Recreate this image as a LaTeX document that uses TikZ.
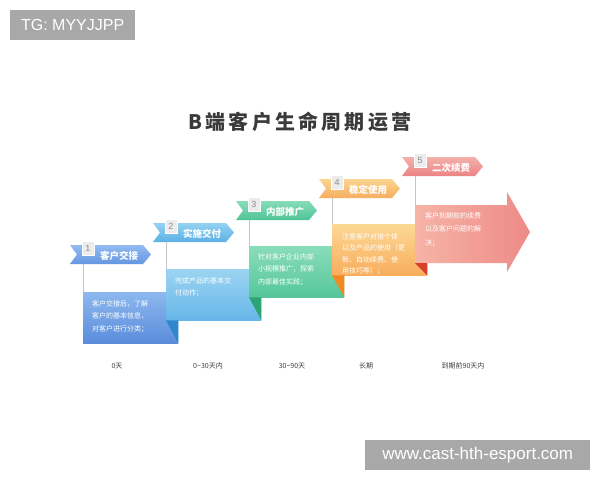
\documentclass[tikz,border=0pt]{standalone}
\usepackage{fontspec}
\setmainfont{Noto Sans CJK SC}
\newfontfamily\lat{Liberation Sans}
\usetikzlibrary{calc}
\definecolor{wmgray}{HTML}{A8A8A8}
\definecolor{ttl}{HTML}{3A3A3A}
\definecolor{vline}{HTML}{C4C4C4}
\definecolor{lbl}{HTML}{404040}
\definecolor{numfill}{HTML}{ECECEC}
\definecolor{numtxt}{HTML}{8C8C8C}
% ribbons
\definecolor{r1t}{HTML}{92BBF0}\definecolor{r1b}{HTML}{6596E0}
\definecolor{r2t}{HTML}{94D2F2}\definecolor{r2b}{HTML}{5CB0E6}
\definecolor{r3t}{HTML}{88DCBA}\definecolor{r3b}{HTML}{4FC496}
\definecolor{r4t}{HTML}{FBD592}\definecolor{r4b}{HTML}{F6AE5E}
\definecolor{r5t}{HTML}{F5B0AC}\definecolor{r5b}{HTML}{EB8484}
% boxes
\definecolor{b1t}{HTML}{8DB8EE}\definecolor{b1b}{HTML}{5A8CDC}
\definecolor{b2t}{HTML}{9CD4F2}\definecolor{b2b}{HTML}{66B6E8}
\definecolor{b3t}{HTML}{8ADDBA}\definecolor{b3b}{HTML}{55C69A}
\definecolor{b4t}{HTML}{FCD896}\definecolor{b4b}{HTML}{F8AD5C}
\definecolor{b5l}{HTML}{F6B4A6}\definecolor{b5r}{HTML}{EE8A88}
% folds
\definecolor{f2}{HTML}{2E86CC}
\definecolor{f3}{HTML}{2EA476}
\definecolor{f4}{HTML}{EE8A22}
\definecolor{f5}{HTML}{D8402E}
\tikzset{
  numbox/.style={fill=numfill, draw=white, line width=0.4pt, minimum width=12pt, minimum height=14pt, inner sep=0pt, text=numtxt, font=\lat\fontsize{9}{9}\selectfont},
  ribtext/.style={text=white, inner sep=0pt, font=\fontsize{9.5}{10}\selectfont\bfseries},
  stagebox/.style={draw=none, inner sep=0pt, minimum width=95pt, minimum height=51pt, anchor=north west},
  bodytext/.style={text=white, inner sep=0pt, anchor=north west, align=left, font=\fontsize{7}{12.5}\selectfont},
  connline/.style={draw=vline, line width=0.8pt},
  daylabel/.style={text=lbl, inner sep=0pt, font=\fontsize{7}{8}\selectfont},
  wmark/.style={fill=wmgray, text=white, inner sep=0pt, font=\lat\fontsize{16}{16}\selectfont}
}
\newcommand{\ribbon}[6]{%
  \path[top color=#4t, bottom color=#4b] (#2,#3) -- (#2+73,#3) -- (#2+81,#3+9.5) -- (#2+73,#3+19) -- (#2,#3+19) -- (#2+7,#3+9.5) -- cycle;
  \node[numbox] (#1n) at (#2+18,#3+3.5) {#5};
  \node[ribtext] (#1t) at (#2+49,#3+11) {#6};
  \coordinate (#1a) at (#2+13,#3+19);
}
\begin{document}
\begin{tikzpicture}[x=1pt,y=-1pt]
\useasboundingbox (0,0) rectangle (600,480);
\fill[white] (0,0) rectangle (600,480);

% watermarks
\node[wmark, minimum width=125pt, minimum height=30pt, anchor=north west] (wm1) at (10,10) {TG: MYYJJPP};
\node[wmark, minimum width=225pt, minimum height=30pt, anchor=north west, font=\lat\fontsize{17}{17}\selectfont] (wm2) at (365,440) {www.cast-hth-esport.com};

% title
\node[text=ttl, inner sep=0pt, font=\fontsize{20}{22}\selectfont\bfseries\addfontfeature{LetterSpace=16}] (title) at (300,122) {B端客户生命周期运营};

% ribbons
\ribbon{r1}{70}{245}{r1}{1}{客户交接}
\ribbon{r2}{153}{223}{r2}{2}{实施交付}
\ribbon{r3}{236}{201}{r3}{3}{内部推广}
\ribbon{r4}{319}{179}{r4}{4}{稳定使用}
\ribbon{r5}{402}{157}{r5}{5}{二次续费}

% boxes
\node[stagebox, top color=b1t, bottom color=b1b] (box1) at (83,292) {};
\node[stagebox, top color=b2t, bottom color=b2b] (box2) at (166,269) {};
\fill[f2] (box2.south west) -- (box1.east |- box2.south) -- (box1.south east) -- cycle;
\node[stagebox, top color=b3t, bottom color=b3b] (box3) at (249,246) {};
\fill[f3] (box3.south west) -- (box2.east |- box3.south) -- (box2.south east) -- cycle;
\node[stagebox, top color=b4t, bottom color=b4b] (box4) at (332,224) {};
\fill[f4] (box4.south west) -- (box3.east |- box4.south) -- (box3.south east) -- cycle;
\path[left color=b5l, right color=b5r] (415,205) -- (507,205) -- (507,192) -- (530,232) -- (507,272) -- (507,263) -- (415,263) -- cycle;
\coordinate (box5nw) at (415,205);
\coordinate (box5sw) at (415,263);
\fill[f5] (box5sw) -- (box4.east |- box5sw) -- (box4.south east) -- cycle;

% connector lines
\draw[connline] (r1a) -- (r1a |- box1.north);
\draw[connline] (r2a) -- (r2a |- box2.north);
\draw[connline] (r3a) -- (r3a |- box3.north);
\draw[connline] (r4a) -- (r4a |- box4.north);
\draw[connline] (r5a) -- (box5nw);

% texts
\node[bodytext] (t1) at ([shift={(9,8)}]box1.north west) {客户交接后，了解\\客户的基本信息，\\对客户进行分类；};
\node[bodytext] (t2) at ([shift={(9,8)}]box2.north west) {完成产品的基本交\\付动作；};
\node[bodytext] (t3) at ([shift={(9,7)}]box3.north west) {针对客户企业内部\\小规模推广，探索\\内部最佳实践；};
\node[bodytext, font=\fontsize{7}{11.5}\selectfont] (t4) at ([shift={(10,9)}]box4.north west) {注意客户对接个体\\以及产品的使用（更\\新、自动续费、使\\用技巧等）；};
\node[bodytext, font=\fontsize{7}{13.5}\selectfont] (t5) at ([shift={(10,7)}]box5nw) {客户到期前的续费\\以及客户问题的解\\决；};

% day labels
\node[daylabel] (d1) at (117,366) {0天};
\node[daylabel] (d2) at (208,366) {0\textasciitilde30天内};
\node[daylabel] (d3) at (292,366) {30\textasciitilde90天};
\node[daylabel] (d4) at (366,366) {长期};
\node[daylabel] (d5) at (463,366) {到期前90天内};
\end{tikzpicture}
\end{document}
